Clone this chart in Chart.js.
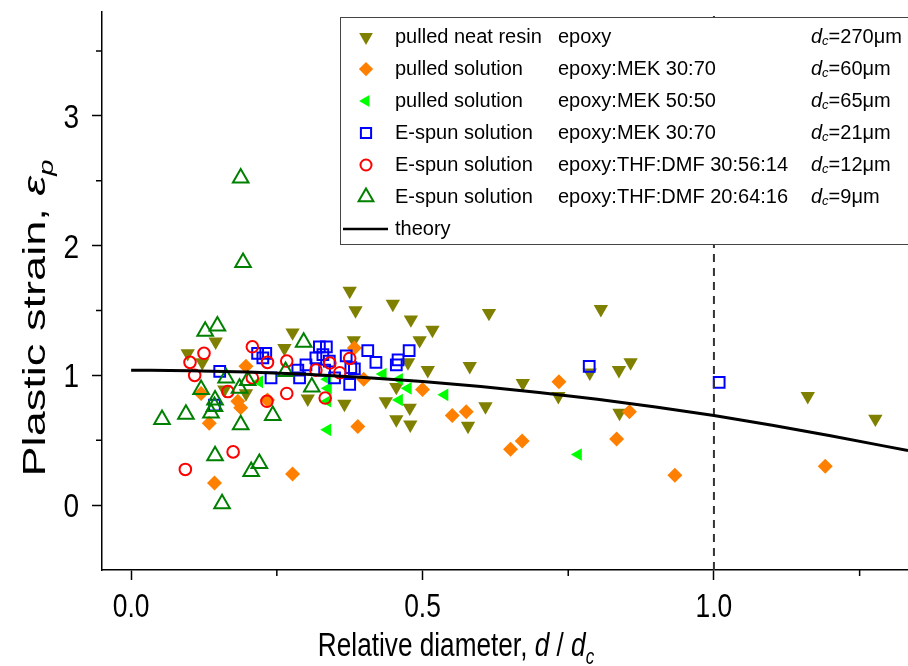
<!DOCTYPE html>
<html>
<head>
<meta charset="utf-8">
<script src="https://cdn.jsdelivr.net/npm/chart.js@4.4.1/dist/chart.umd.min.js"></script>
<style>
  html, body { margin: 0; padding: 0; background: #fff; }
  #wrap { width: 908px; height: 666px; }
</style>
</head>
<body>
<div id="wrap"><canvas id="chart" width="908" height="666"></canvas></div>
<script>
// values: [d/dc, plastic strain]
const neatResin = [
  [0.097, 1.17], [0.122, 1.10], [0.145, 1.26], [0.16, 0.89], [0.197, 0.86],
  [0.263, 1.21], [0.277, 1.33], [0.303, 0.82], [0.366, 0.78], [0.375, 1.65],
  [0.385, 1.50], [0.382, 1.27], [0.437, 0.80], [0.449, 1.55], [0.455, 0.91],
  [0.455, 0.66], [0.475, 1.10], [0.478, 0.75], [0.48, 1.43], [0.479, 0.62],
  [0.495, 1.27], [0.509, 1.04], [0.517, 1.35], [0.581, 1.07], [0.578, 0.61],
  [0.608, 0.76], [0.614, 1.48], [0.672, 0.94], [0.733, 0.84], [0.787, 1.02],
  [0.806, 1.51], [0.837, 1.04], [0.857, 1.10], [0.838, 0.71], [1.161, 0.84],
  [1.277, 0.665]
];
const pulledMek3070 = [
  [0.12, 0.86], [0.134, 0.63], [0.143, 0.17], [0.183, 0.80], [0.188, 0.75],
  [0.197, 1.07], [0.234, 0.81], [0.277, 0.24], [0.383, 1.21], [0.399, 0.97],
  [0.389, 0.605], [0.50, 0.89], [0.551, 0.69], [0.575, 0.72], [0.651, 0.43],
  [0.671, 0.495], [0.734, 0.95], [0.833, 0.51], [0.855, 0.72], [0.933, 0.23],
  [1.191, 0.30]
];
const pulledMek5050 = [
  [0.22, 0.95], [0.337, 0.97], [0.338, 0.90], [0.337, 0.80], [0.337, 0.58],
  [0.432, 1.01], [0.46, 0.97], [0.475, 0.90], [0.46, 0.81], [0.538, 0.85],
  [0.767, 0.39]
];
const spunMek3070 = [
  [0.143, 0.77], [0.152, 1.03], [0.217, 1.17], [0.226, 1.135], [0.231, 1.17],
  [0.24, 0.98], [0.286, 1.04], [0.289, 0.98], [0.30, 1.08], [0.317, 1.135],
  [0.323, 1.22], [0.335, 1.22], [0.329, 1.16], [0.34, 1.11], [0.332, 1.04],
  [0.349, 0.98], [0.369, 1.15], [0.377, 1.06], [0.383, 1.05], [0.375, 0.93],
  [0.406, 1.19], [0.42, 1.10], [0.455, 1.08], [0.458, 1.12], [0.477, 1.19],
  [0.786, 1.07], [1.009, 0.946]
];
const spunThf305614 = [
  [0.093, 0.275], [0.101, 1.10], [0.109, 1.00], [0.125, 1.17], [0.166, 0.875],
  [0.175, 0.41], [0.208, 1.22], [0.208, 0.98], [0.234, 1.10], [0.233, 0.80],
  [0.267, 1.11], [0.267, 0.86], [0.317, 1.04], [0.333, 0.825], [0.341, 1.095],
  [0.358, 1.02], [0.375, 1.13]
];
const spunThf206416 = [
  [0.053, 0.66], [0.094, 0.70], [0.12, 0.89], [0.127, 1.34], [0.137, 0.71],
  [0.143, 0.76], [0.144, 0.81], [0.144, 0.38], [0.148, 1.38], [0.156, 0.01],
  [0.163, 0.98], [0.186, 0.90], [0.188, 0.62], [0.188, 2.52], [0.192, 1.87],
  [0.20, 0.96], [0.206, 0.26], [0.22, 0.32], [0.243, 0.69], [0.265, 1.03],
  [0.296, 1.255], [0.31, 0.91]
];
// theory curve read at a few points
const theoryX = [0, 0.1, 0.2, 0.3, 0.4, 0.5, 0.6, 0.7, 0.8, 0.9, 1.0, 1.1, 1.2, 1.333];
const theoryY = [1.04, 1.036, 1.026, 1.008, 0.984, 0.952, 0.914, 0.868, 0.816, 0.756, 0.69, 0.616, 0.535, 0.42];
const criticalX = 1.0;

const legendNames = ['pulled neat resin', 'pulled solution', 'pulled solution',
  'E-spun solution', 'E-spun solution', 'E-spun solution'];
const legendSolvents = ['epoxy', 'epoxy:MEK 30:70', 'epoxy:MEK 50:50',
  'epoxy:MEK 30:70', 'epoxy:THF:DMF 30:56:14', 'epoxy:THF:DMF 20:64:16'];
const legendDc = ['270', '60', '65', '21', '12', '9'];

const xMajorTicks = [0, 0.5, 1.0];
const xMinorTicks = [0.25, 0.75, 1.25];
const yMinorTicks = [0.5, 1.5, 2.5, 3.5];

const toPts = arr => arr.map(p => ({ x: p[0], y: p[1] }));

function markerSet(data, style, rotation, radius, color, filled, order) {
  return {
    type: 'scatter',
    data: toPts(data),
    pointStyle: style,
    rotation: rotation,
    pointRadius: radius,
    pointHoverRadius: radius,
    backgroundColor: filled ? color : 'rgba(0,0,0,0)',
    borderColor: color,
    borderWidth: filled ? 0 : 2,
    order: order
  };
}

const seriesSets = [
  markerSet(neatResin, 'triangle', 180, 8.3, '#808000', true, 6),
  markerSet(pulledMek3070, 'rectRot', 0, 7.5, '#FF8000', true, 5),
  markerSet(pulledMek5050, 'triangle', 270, 7.3, '#00FF00', true, 4),
  markerSet(spunMek3070, 'rect', 0, 7.6, '#0000FF', false, 3),
  markerSet(spunThf305614, 'circle', 0, 5.8, '#FF0000', false, 2),
  markerSet(spunThf206416, 'triangle', 0, 9, '#008000', false, 1)
];

const FONT = 'Liberation Sans';

function setFont(ctx, size, italic) {
  ctx.font = (italic ? 'italic ' : '') + size + 'px "' + FONT + '", Arial, sans-serif';
}

function richWidth(ctx, parts, size) {
  let w = 0;
  parts.forEach(p => {
    setFont(ctx, p.sub ? size * 0.65 : size, p.italic);
    w += ctx.measureText(p.t).width;
  });
  return w;
}

function drawRich(ctx, parts, size, x, y) {
  let cx = x;
  parts.forEach(p => {
    setFont(ctx, p.sub ? size * 0.65 : size, p.italic);
    ctx.fillText(p.t, cx, y + (p.sub ? size * 0.24 : 0));
    cx += ctx.measureText(p.t).width;
  });
}

// text squeezed horizontally (the original figure is stretched vertically)
function drawSqueezed(ctx, text, size, sx, x, y, align) {
  ctx.save();
  setFont(ctx, size, false);
  const w = ctx.measureText(text).width * sx;
  let left = x;
  if (align === 'center') left = x - w / 2;
  if (align === 'right') left = x - w;
  ctx.translate(left, y);
  ctx.scale(sx, 1);
  ctx.textAlign = 'left';
  ctx.fillText(text, 0, 0);
  ctx.restore();
}

const extrasPlugin = {
  id: 'extras',
  afterDraw(chart) {
    const ctx = chart.ctx;
    const xs = chart.scales.x, ys = chart.scales.y;
    const area = chart.chartArea;
    ctx.save();
    // minor ticks
    ctx.strokeStyle = '#000';
    ctx.lineWidth = 1.5;
    ctx.beginPath();
    xMinorTicks.forEach(v => {
      const px = xs.getPixelForValue(v);
      ctx.moveTo(px, area.bottom);
      ctx.lineTo(px, area.bottom + 6);
    });
    yMinorTicks.forEach(v => {
      const py = ys.getPixelForValue(v);
      ctx.moveTo(area.left, py);
      ctx.lineTo(area.left - 6, py);
    });
    ctx.stroke();

    // tick labels from the scales' own ticks
    ctx.fillStyle = '#000';
    ctx.textBaseline = 'alphabetic';
    xs.ticks.forEach(t => {
      drawSqueezed(ctx, t.value.toFixed(1), 33, 0.8, xs.getPixelForValue(t.value), area.bottom + 47, 'center');
    });
    ys.ticks.forEach(t => {
      drawSqueezed(ctx, String(t.value), 33, 0.85, area.left - 23, ys.getPixelForValue(t.value) + 12, 'right');
    });

    // legend
    const bx = 340, by = 17, bw = 620, bh = 227;
    ctx.fillStyle = '#fff';
    ctx.fillRect(bx, by, bw, bh);
    ctx.strokeStyle = '#444';
    ctx.lineWidth = 1;
    ctx.strokeRect(bx + 0.5, by + 0.5, bw, bh);
    const rowH = 32, row0 = 37, fs = 20;
    ctx.textBaseline = 'middle';
    ctx.textAlign = 'left';
    seriesSets.forEach((ds, i) => {
      const y = row0 + i * rowH;
      ctx.fillStyle = ds.backgroundColor;
      ctx.strokeStyle = ds.borderColor;
      ctx.lineWidth = ds.borderWidth;
      Chart.helpers.drawPoint(ctx, {
        pointStyle: ds.pointStyle, rotation: ds.rotation,
        radius: ds.pointRadius * 0.95, borderWidth: ds.borderWidth
      }, 366, y);
      ctx.fillStyle = '#000';
      setFont(ctx, fs, false);
      ctx.fillText(legendNames[i], 395, y);
      ctx.fillText(legendSolvents[i], 558, y);
      drawRich(ctx, [
        { t: 'd', italic: true },
        { t: 'c', italic: true, sub: true },
        { t: '=' + legendDc[i] + 'μm' }
      ], fs, 811, y);
    });
    const ty = row0 + 6 * rowH;
    ctx.strokeStyle = '#000';
    ctx.lineWidth = 2.5;
    ctx.beginPath();
    ctx.moveTo(343, ty);
    ctx.lineTo(388, ty);
    ctx.stroke();
    ctx.fillStyle = '#000';
    setFont(ctx, fs, false);
    ctx.fillText('theory', 395, ty);

    // axis titles
    ctx.textBaseline = 'alphabetic';
    const xParts = [
      { t: 'Relative diameter, ' }, { t: 'd', italic: true }, { t: ' / ' },
      { t: 'd', italic: true }, { t: 'c', italic: true, sub: true }
    ];
    const xfs = 34, xsx = 0.77;
    const xw = richWidth(ctx, xParts, xfs) * xsx;
    ctx.save();
    ctx.translate(456 - xw / 2, 656);
    ctx.scale(xsx, 1);
    drawRich(ctx, xParts, xfs, 0, 0);
    ctx.restore();

    const yParts = [
      { t: 'Plastic strain, ' }, { t: 'ε', italic: true }, { t: 'p', italic: true, sub: true }
    ];
    const yfs = 32;
    ctx.save();
    ctx.translate(45, 318);
    ctx.rotate(-Math.PI / 2);
    ctx.scale(1.41, 1);
    const yw = richWidth(ctx, yParts, yfs);
    drawRich(ctx, yParts, yfs, -yw / 2, 0);
    ctx.restore();
    ctx.restore();
  }
};

new Chart(document.getElementById('chart'), {
  data: {
    datasets: [
      ...seriesSets,
      {
        type: 'line',
        data: theoryX.map((x, i) => ({ x: x, y: theoryY[i] })),
        borderColor: '#000',
        borderWidth: 3,
        pointRadius: 0,
        cubicInterpolationMode: 'monotone',
        fill: false,
        order: 0
      },
      {
        type: 'line',
        data: [{ x: criticalX, y: -0.5 }, { x: criticalX, y: 3.8 }],
        borderColor: '#333',
        borderWidth: 2,
        borderDash: [8, 6],
        pointRadius: 0,
        fill: false,
        order: 0.5
      }
    ]
  },
  options: {
    responsive: false,
    animation: false,
    layout: { autoPadding: false, padding: { top: 12, right: 0, left: 0, bottom: 0 } },
    plugins: { legend: { display: false }, tooltip: { enabled: false } },
    scales: {
      x: {
        type: 'linear',
        min: -0.05,
        max: 1.333,
        afterFit: s => { s.height = 96; },
        afterBuildTicks: s => { s.ticks = xMajorTicks.map(v => ({ value: v })); },
        border: { display: true, color: '#000', width: 1.5 },
        grid: { display: true, drawOnChartArea: false, drawTicks: true, tickLength: 10, tickWidth: 1.5, tickColor: '#000' },
        ticks: { display: false }
      },
      y: {
        type: 'linear',
        min: -0.5,
        max: 3.8,
        afterFit: s => { s.width = 102; },
        border: { display: true, color: '#000', width: 1.5 },
        grid: { display: true, drawOnChartArea: false, drawTicks: true, tickLength: 10, tickWidth: 1.5, tickColor: '#000' },
        ticks: { display: false, stepSize: 1, includeBounds: false }
      }
    }
  },
  plugins: [extrasPlugin]
});
</script>
</body>
</html>
